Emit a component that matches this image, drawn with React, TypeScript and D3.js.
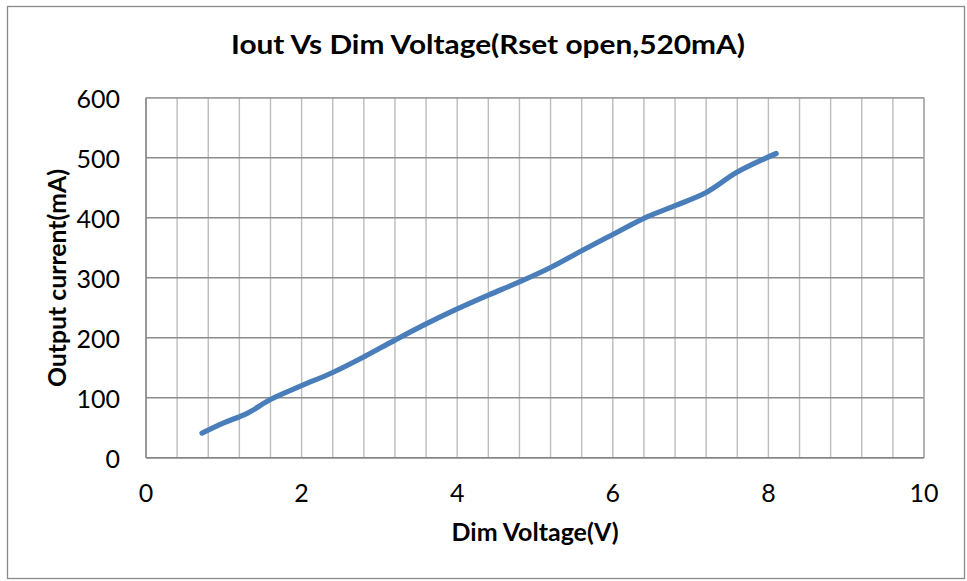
import React from "react";
import * as d3 from "d3";

const voltages = [0.72, 1.0, 1.3, 1.6, 2.0, 2.4, 2.8, 3.2, 3.6, 4.0, 4.4, 4.8, 5.2, 5.6, 6.0, 6.4, 6.8, 7.2, 7.6, 8.1];
const currents = [41, 58, 74, 97, 120, 142, 168, 196, 223, 248, 271, 293, 317, 345, 372, 399, 420, 442, 476, 507];
const xTicks = [0, 2, 4, 6, 8, 10];
const yTicks = [0, 100, 200, 300, 400, 500, 600];
const xMinorTicks = d3.range(0, 10.001, 0.4);

const title = "Iout Vs Dim Voltage(Rset open,520mA)";
const xTitle = "Dim Voltage(V)";
const yTitle = "Output current(mA)";

const W = 967;
const H = 581;
const plot = { left: 146, right: 924, top: 97.7, bottom: 457.7 };
const FONT = "Lato, 'Liberation Sans', Arial, sans-serif";

export default function App() {
  const x = d3.scaleLinear().domain([0, 10]).range([plot.left, plot.right]);
  const y = d3.scaleLinear().domain([0, 600]).range([plot.bottom, plot.top]);
  const data = voltages.map((v, i) => [v, currents[i]] as [number, number]);
  const line = d3
    .line<[number, number]>()
    .x((d) => x(d[0]))
    .y((d) => y(d[1]))
    .curve(d3.curveCatmullRom.alpha(0.5));

  return (
    <svg
      width={W}
      height={H}
      style={{ position: "absolute", left: 0, top: 0, background: "#fff" }}
      fontFamily={FONT}
    >
      <rect x={0} y={0} width={W} height={H} fill="#fff" />
      <rect x={7.5} y={6.5} width={957} height={572} fill="none" stroke="#8a8a8a" strokeWidth={1.3} />

      {xMinorTicks.map((t, i) => (
        <line key={"v" + i} x1={x(t)} x2={x(t)} y1={plot.top} y2={plot.bottom} stroke="#bcbcbc" strokeWidth={1.4} />
      ))}
      {yTicks.map((t) => (
        <line key={"h" + t} x1={plot.left} x2={plot.right} y1={y(t)} y2={y(t)} stroke="#8c8c8c" strokeWidth={1.4} />
      ))}
      <line x1={plot.right} x2={plot.right} y1={plot.top} y2={plot.bottom} stroke="#a8a8a8" strokeWidth={1.4} />
      <line x1={plot.left} x2={plot.right} y1={plot.top} y2={plot.top} stroke="#a0a0a0" strokeWidth={1.4} />
      <line x1={plot.left} x2={plot.left} y1={plot.top} y2={plot.bottom} stroke="#868686" strokeWidth={1.5} />
      <line x1={plot.left} x2={plot.right} y1={plot.bottom} y2={plot.bottom} stroke="#868686" strokeWidth={1.5} />

      <path
        d={line(data) || ""}
        fill="none"
        stroke="#4a7ebb"
        strokeWidth={5.2}
        strokeLinecap="round"
        strokeLinejoin="round"
      />

      {yTicks.map((t) => (
        <text key={"yl" + t} x={120} y={y(t) + 10} textAnchor="end" fontSize={25} fill="#000">
          {t}
        </text>
      ))}
      {xTicks.map((t) => (
        <text key={"xl" + t} x={x(t)} y={502} textAnchor="middle" fontSize={25} fill="#000">
          {t}
        </text>
      ))}

      <text x={488} y={54} textAnchor="middle" fontSize={26} fontWeight="bold" textLength={514} lengthAdjust="spacingAndGlyphs">
        {title}
      </text>
      <text x={535} y={541} textAnchor="middle" fontSize={24} fontWeight="bold" textLength={167} lengthAdjust="spacingAndGlyphs">
        {xTitle}
      </text>
      <text
        transform={`translate(66, 278) rotate(-90)`}
        textAnchor="middle"
        fontSize={24}
        fontWeight="bold"
        textLength={218}
        lengthAdjust="spacingAndGlyphs"
      >
        {yTitle}
      </text>
    </svg>
  );
}
